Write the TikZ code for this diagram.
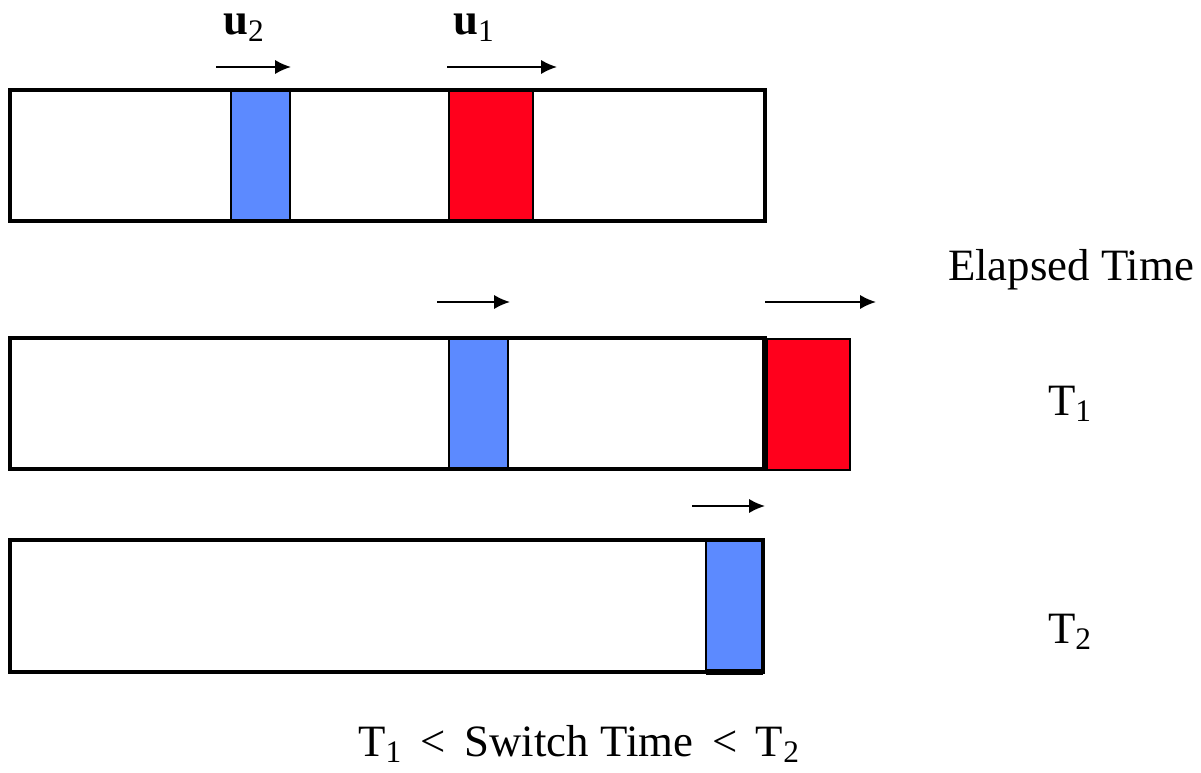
\documentclass[tikz,border=0pt]{standalone}
\usepackage{fontspec}
\setmainfont{Liberation Serif}
\usetikzlibrary{arrows.meta}
\definecolor{barblue}{RGB}{92,138,255}
\definecolor{barred}{RGB}{255,0,28}
\begin{document}
\begin{tikzpicture}[x=0.02cm,y=-0.02cm,
  bar/.style={draw=black,line width=2pt,fill=white},
  bluebox/.style={draw=black,line width=0.6pt,fill=barblue},
  redbox/.style={draw=black,line width=0.6pt,fill=barred},
  motion/.style={-{Latex[length=9pt,width=8pt]},line width=1pt},
  lbl/.style={font=\fontsize{25.5}{30}\selectfont,inner sep=0pt}]
\useasboundingbox (0,0) rectangle (1201,773);
% bar 1
\draw[bar] (10,90) rectangle (765,221);
\draw[bluebox] (231,91) rectangle (290,220);
\draw[redbox] (449,91) rectangle (533,220);
\draw[bar,fill=none] (10,90) rectangle (765,221);
\coordinate (a1s) at (216,67); \coordinate (a1e) at (291,67);
\coordinate (a2s) at (447,67); \coordinate (a2e) at (557,67);
\draw[motion] (a1s) -- (a1e);
\draw[motion] (a2s) -- (a2e);
\node[lbl] (u2) at (244,28) {\textbf{u}\textsubscript{2}};
\node[lbl] (u1) at (474,28) {\textbf{u}\textsubscript{1}};
% bar 2
\draw[bar] (10,338) rectangle (765,469);
\draw[bluebox] (449,339) rectangle (508,468);
\draw[redbox] (767,339) rectangle (850,470);
\draw[bar,fill=none] (10,338) rectangle (765,469);
\draw[line width=3.2pt] (765,338) -- (765,469);
\coordinate (b1s) at (437,302); \coordinate (b1e) at (510,302);
\coordinate (b2s) at (765,302); \coordinate (b2e) at (876,302);
\draw[motion] (b1s) -- (b1e);
\draw[motion] (b2s) -- (b2e);
% bar 3
\draw[bar] (10,540) rectangle (763,672);
\draw[bluebox] (706,541) rectangle (763,671);
\draw[bar,fill=none] (10,540) rectangle (763,672);
\draw[line width=3pt] (706,672) -- (763,672);
\coordinate (c1s) at (692,506); \coordinate (c1e) at (765,506);
\draw[motion] (c1s) -- (c1e);
% labels
\node[lbl] (el) at (1071,270) {Elapsed Time};
\node[lbl] (t1) at (1070,404) {T\textsubscript{1}};
\node[lbl] (t2) at (1070,632) {T\textsubscript{2}};
\node[lbl] (sw) at (579,744) {T\textsubscript{1} \,<\, Switch Time \,<\, T\textsubscript{2}};
\end{tikzpicture}
\end{document}
